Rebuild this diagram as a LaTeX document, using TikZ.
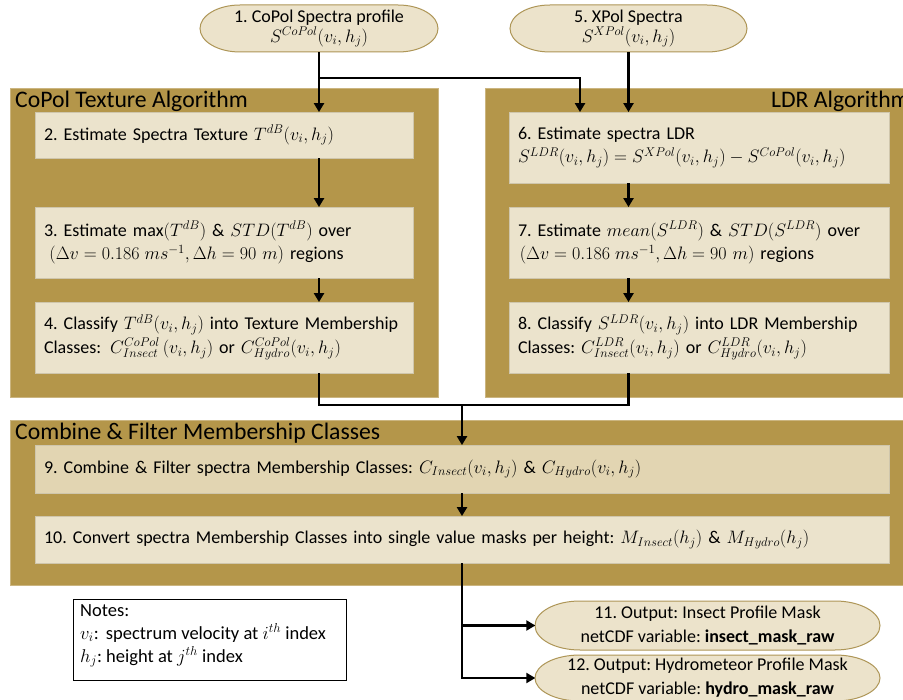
\RequirePackage{fix-cm}
\documentclass[tikz,border=0pt]{standalone}
\usepackage{fontspec}
\setmainfont{Carlito}
\frenchspacing
\usetikzlibrary{arrows.meta}
\definecolor{gold}{HTML}{B4964A}
\definecolor{beige}{HTML}{EBE3CC}
\definecolor{beigedk}{HTML}{E2D5B2}
\definecolor{boxline}{HTML}{CFC6AC}
\definecolor{ovalline}{HTML}{AE9657}
\definecolor{ovalfill}{HTML}{ECE3CB}
\tikzset{
  panel/.style={draw=gold!70!white, line width=0.6pt, fill=gold, inner sep=0pt, anchor=north west},
  stepbox/.style={draw=boxline, line width=0.8pt, fill=beige, align=left, anchor=center,
     inner xsep=8.5pt, font=\fontsize{18}{23.5}\selectfont},
  ovaltext/.style={align=center, inner sep=0pt, font=\fontsize{18}{23}\selectfont},
  ovalstyle/.style={fill=ovalfill, draw=ovalline, line width=1pt},
  ptitle/.style={font=\fontsize{23.7}{28}\selectfont, inner sep=0pt},
  conn/.style={line width=2.6pt, black},
  arr/.style={conn, -{Triangle[width=10pt,length=9pt]}, shorten >=-0.5pt},
}
% cx, cy, half width, half height, end radius
\newcommand\ovalshape[5]{%
  \path[ovalstyle] (#1-#3+#5, #2-#4) -- (#1+#3-#5, #2-#4)
    arc[start angle=90, end angle=-90, x radius=#5pt, y radius=#4pt]
    -- (#1-#3+#5, #2+#4)
    arc[start angle=270, end angle=90, x radius=#5pt, y radius=#4pt] -- cycle;}
\begin{document}
\begin{tikzpicture}[x=1pt,y=-1pt]
\clip (0,0) rectangle (903,700);
\fill[white] (0,0) rectangle (903,700);

% panels
\node[panel, minimum width=428pt, minimum height=309pt] (pcopol) at (10,88) {};
\node[panel, minimum width=430pt, minimum height=309pt] (pldr) at (485,88) {};
\node[panel, minimum width=905pt, minimum height=165pt] (pcomb) at (10,420) {};
\node[ptitle, anchor=west] (tcopol) at (15,101) {CoPol Texture Algorithm};
\node[ptitle, anchor=west] (tldr) at (771,101) {LDR Algorithm};
\node[ptitle, anchor=west] (tcomb) at (15,433) {Combine \& Filter Membership Classes};

% ovals
\ovalshape{319}{28.5}{119}{23.5}{40}
\node[ovaltext, minimum width=238pt, minimum height=47pt] (e1) at (319,28.5)
  {1. CoPol Spectra profile\\[-3pt]$S^{CoPol}(v_i,h_j)$};
\ovalshape{628.5}{28.5}{118.5}{23.5}{40}
\node[ovaltext, minimum width=237pt, minimum height=47pt] (e5) at (628.5,28.5)
  {5. XPol Spectra\\[-3pt]$S^{XPol}(v_i,h_j)$};

% left boxes
\node[stepbox, minimum width=378pt, minimum height=46pt, text width=360pt] (b2) at (224,135)
  {2. Estimate Spectra Texture $T^{dB}(v_i,h_j)$};
\node[stepbox, minimum width=378pt, minimum height=71pt, text width=360pt] (b3) at (224,242.5)
  {3. Estimate $\max(T^{dB})$ \& $STD(T^{dB})$ over\\\hspace*{0.3em}$(\Delta v=0.186\;ms^{-1},\Delta h=90\ m)$ regions};
\node[stepbox, minimum width=378pt, minimum height=71pt, text width=360pt] (b4) at (224,337.5)
  {4. Classify $T^{dB}(v_i,h_j)$ into Texture Membership\\Classes: \,$C^{CoPol}_{Insect}\,(v_i,h_j)$ or $C^{CoPol}_{Hydro}\bigl(v_i,h_j\bigr)$};

% right boxes
\node[stepbox, minimum width=380pt, minimum height=71pt, text width=362pt] (b6) at (699,147.5)
  {6. Estimate spectra LDR\\$S^{LDR}\bigl(v_i,h_j\bigr)=S^{XPol}\bigl(v_i,h_j\bigr)-S^{CoPol}(v_i,h_j)$};
\node[stepbox, minimum width=380pt, minimum height=71pt, text width=362pt] (b7) at (699,242.5)
  {7. Estimate $mean(S^{LDR})$ \& $STD(S^{LDR})$ over\\\hspace*{0.1em}$(\Delta v=0.186\;ms^{-1},\Delta h=90\ m)$ regions};
\node[stepbox, minimum width=380pt, minimum height=71pt, text width=362pt] (b8) at (699,337.5)
  {8. Classify $S^{LDR}(v_i,h_j)$ into LDR Membership\\Classes: $C^{LDR}_{Insect}(v_i,h_j)$ or $C^{LDR}_{Hydro}(v_i,h_j)$};

% combine boxes
\node[stepbox, fill=beigedk, minimum width=854pt, minimum height=48pt, text width=836pt] (b9) at (462,469)
  {9. Combine \& Filter spectra Membership Classes: $C_{Insect}(v_i,h_j)$ \& $C_{Hydro}(v_i,h_j)$};
\node[stepbox, minimum width=854pt, minimum height=47pt, text width=836pt] (b10) at (462,539.5)
  {10. Convert spectra Membership Classes into single value masks per height: $M_{Insect}(h_j)$ \& $M_{Hydro}(h_j)$};

% outputs
\ovalshape{707.5}{625.5}{172.5}{24.5}{45}
\node[ovaltext, minimum width=345pt, minimum height=49pt, font=\fontsize{18}{24}\selectfont] (e11) at (707.5,625.5)
  {11. Output: Insect Profile Mask\\netCDF variable: \textbf{insect\_mask\_raw}};
\ovalshape{707.5}{678}{172.5}{23}{45}
\node[ovaltext, minimum width=345pt, minimum height=46pt, font=\fontsize{18}{24}\selectfont] (e12) at (707.5,678)
  {12. Output: Hydrometeor Profile Mask\\netCDF variable: \textbf{hydro\_mask\_raw}};

% notes
\node[draw=black, line width=1pt, fill=white, minimum width=273pt, minimum height=81pt,
  anchor=north west, inner sep=0pt] (notes) at (73,599) {};
\node[anchor=north west, align=left, inner sep=0pt, font=\fontsize{18.5}{23}\selectfont] (notestext) at (80,604)
  {Notes:\\$v_i$:\, spectrum velocity at $i^{th}$ index\\$h_j$: height at $j^{th}$ index};

% connectors
\coordinate (split) at (319,78);
\coordinate (join) at (462,405);
\draw[arr] (e1.south) -- (e1.south |- b2.north);
\draw[arr] (split) -| (580,0 |- b6.north);
\draw[arr] (e5.south) -- (e5.south |- b6.north);
\draw[arr] (e1.south |- b2.south) -- (e1.south |- b3.north);
\draw[arr] (e1.south |- b3.south) -- (e1.south |- b4.north);
\draw[arr] (e5.south |- b6.south) -- (e5.south |- b7.north);
\draw[arr] (e5.south |- b7.south) -- (e5.south |- b8.north);
\draw[conn] (e1.south |- b4.south) |- (join);
\draw[conn] (e5.south |- b8.south) |- (join);
\draw[arr] (join) -- (b9.north);
\draw[arr] (b9.south) -- (b10.north);
\draw[arr] (b10.south) |- (e11.west);
\draw[arr] (b10.south) |- (e12.west);
\end{tikzpicture}
\end{document}
